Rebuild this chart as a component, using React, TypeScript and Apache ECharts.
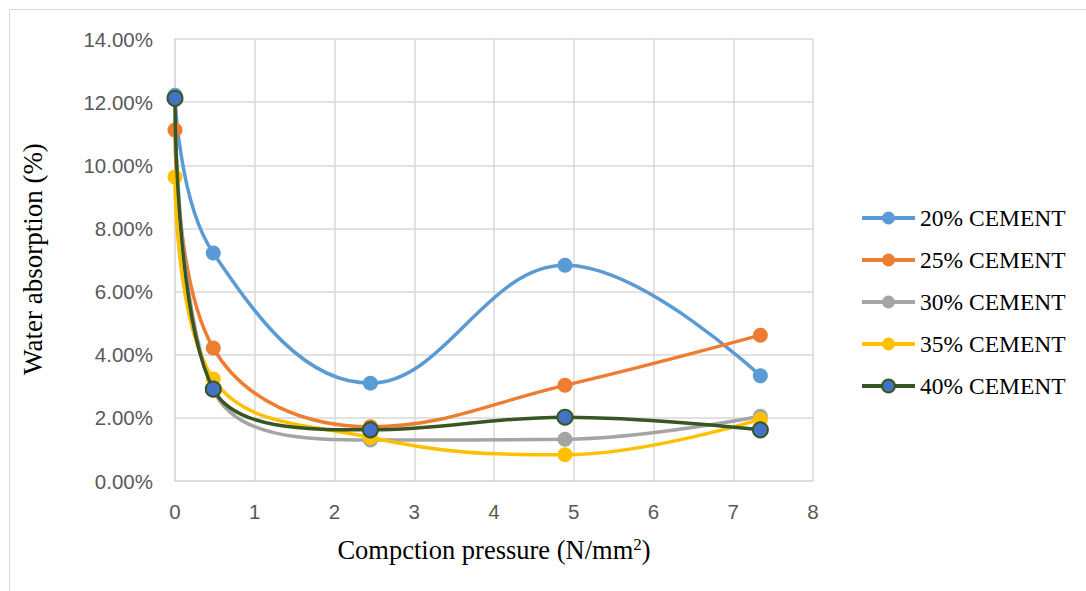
import React, { useEffect, useRef } from "react";
import * as echarts from "echarts";

const pressure = [0, 0.48, 2.45, 4.89, 7.34];
const seriesNames = ["20% CEMENT", "25% CEMENT", "30% CEMENT", "35% CEMENT", "40% CEMENT"];
const cement20 = [0.1222, 0.0722, 0.031, 0.0683, 0.0333];
const cement25 = [0.1112, 0.0421, 0.0172, 0.0303, 0.0462];
const cement30 = [0.1216, 0.029, 0.013, 0.0132, 0.0205];
const cement35 = [0.0963, 0.0323, 0.0138, 0.0083, 0.0195];
const cement40 = [0.1212, 0.0291, 0.0162, 0.0202, 0.0162];
const yTicks = [0, 0.02, 0.04, 0.06, 0.08, 0.1, 0.12, 0.14];

const lineColors = ["#5B9BD5", "#ED7D31", "#A5A5A5", "#FFC000", "#375623"];
const markerFill = ["#5B9BD5", "#ED7D31", "#A5A5A5", "#FFC000", "#4472C4"];

export default function App() {
  const ref = useRef<HTMLDivElement>(null);
  useEffect(() => {
    if (!ref.current) return;
    const chart = echarts.init(ref.current, null, { renderer: "svg" });
    const all = [cement20, cement25, cement30, cement35, cement40];
    const series = all.map((vals, i) => ({
      name: seriesNames[i],
      type: "line",
      smooth: 0.4,
      data: vals.map((v, j) => [pressure[j], v]),
      symbol: "circle",
      symbolSize: 15,
      lineStyle: { color: lineColors[i], width: 3.5 },
      itemStyle: {
        color: markerFill[i],
        borderColor: i === 4 ? "#375623" : markerFill[i],
        borderWidth: i === 4 ? 2 : 0,
      },
      z: 2 + i,
    }));
    chart.setOption({
      animation: false,
      backgroundColor: "#ffffff",
      graphic: [
        {
          type: "rect",
          shape: { x: 9.5, y: 9.5, width: 1100, height: 600 },
          style: { fill: "none", stroke: "#d9d9d9", lineWidth: 1 },
          silent: true,
        },
        {
          type: "text",
          x: 494,
          y: 550,
          style: {
            text: "{a|Compction pressure (N/mm}{s|2}{a|)}",
            align: "center",
            verticalAlign: "middle",
            rich: {
              a: { fontFamily: "Liberation Serif", fontSize: 26.5, fill: "#000" },
              s: { fontFamily: "Liberation Serif", fontSize: 17, fill: "#000", verticalAlign: "top", padding: [0, 0, 12, 0] },
            },
          },
        },
        {
          type: "text",
          x: 33,
          y: 259,
          rotation: Math.PI / 2,
          style: {
            text: "Water absorption (%)",
            align: "center",
            verticalAlign: "middle",
            fontFamily: "Liberation Serif",
            fontSize: 27,
            fill: "#000",
          },
        },
      ],
      grid: { left: 175, right: 273, top: 39, bottom: 110, containLabel: false },
      xAxis: {
        type: "value",
        min: 0,
        max: 8,
        interval: 1,
        axisLine: { show: true, lineStyle: { color: "#d9d9d9", width: 1.5 } },
        axisTick: { show: false },
        splitLine: { show: true, lineStyle: { color: "#d9d9d9", width: 1.5 } },
        axisLabel: { color: "#595959", fontFamily: "Liberation Sans", fontSize: 20.5, margin: 20 },
      },
      yAxis: {
        type: "value",
        min: 0,
        max: 0.14,
        interval: 0.02,
        axisLine: { show: true, lineStyle: { color: "#d9d9d9", width: 1.5 } },
        axisTick: { show: false },
        splitLine: { show: true, lineStyle: { color: "#d9d9d9", width: 1.5 } },
        axisLabel: {
          color: "#595959",
          fontFamily: "Liberation Sans",
          fontSize: 20.5,
          margin: 22,
          formatter: (v: number) => (yTicks.some((t) => Math.abs(t - v) < 1e-9) ? (v * 100).toFixed(2) + "%" : ""),
        },
      },
      legend: {
        orient: "vertical",
        left: 855,
        top: 201,
        itemGap: 18,
        itemWidth: 53,
        itemHeight: 16,
        lineStyle: { width: 4 },
        textStyle: { fontFamily: "Liberation Serif", fontSize: 23.5, color: "#000" },
        data: seriesNames,
      },
      series,
    });
    return () => chart.dispose();
  }, []);
  return (
    <div
      ref={ref}
      style={{ position: "fixed", left: 0, top: 0, width: 1086, height: 591 }}
    />
  );
}
